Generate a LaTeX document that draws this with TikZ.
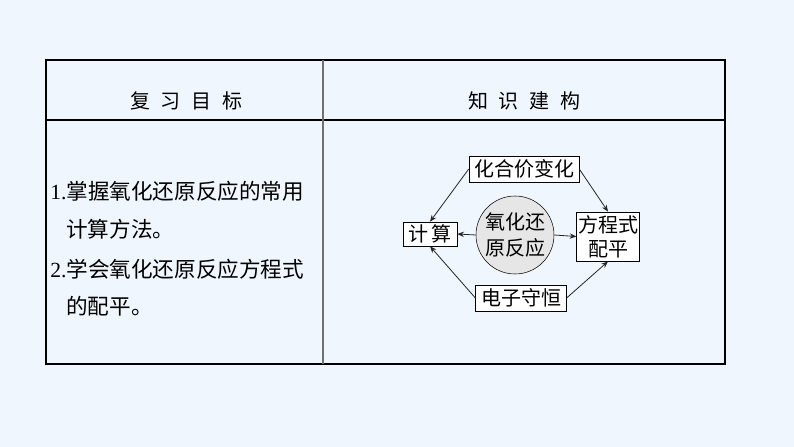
\documentclass[tikz,border=0pt]{standalone}
\usepackage{fontspec}
\setmainfont{Liberation Serif}
\newfontfamily\cjk{Noto Sans CJK SC}
\usetikzlibrary{positioning,arrows.meta,calc}

\definecolor{pagebg}{HTML}{F0F6FE}
\definecolor{coreg}{HTML}{E6E6E6}
\definecolor{rulegray}{HTML}{707070}

\tikzset{
  kbox/.style={draw,thin,fill=white,inner sep=1pt,font=\cjk\fontsize{15}{17}\selectfont},
  core/.style={draw,thin,circle,fill=coreg,minimum size=58.5pt,inner sep=0pt,align=center,
    font=\cjk\fontsize{15}{19}\selectfont},
  link/.style={-{Stealth[length=5pt,width=4pt]},semithick,black!85},
  goal/.style={anchor=west,inner sep=0pt,font=\fontsize{16.2}{18}\selectfont},
  head/.style={font=\cjk\fontsize{15}{17}\selectfont}
}
\newcommand{\hgap}{\hspace{8pt}}

\begin{document}
\begin{tikzpicture}[x=0.75pt,y=-0.75pt]
  \fill[pagebg] (0,0) rectangle (794,447);
  \useasboundingbox (0,0) rectangle (794,447);
  % table
  \draw[line width=1.1pt] (46,60) rectangle (725,364);
  \draw[line width=1.1pt] (46,120) -- (725,120);
  \draw[rulegray,line width=1.5pt] (323,60) -- (323,364);
  \node[head] (hgoal) at (186,101) {复\hgap 习\hgap 目\hgap 标};
  \node[head] (hmap) at (524,101) {知\hgap 识\hgap 建\hgap 构};
  % goals
  \node[goal] (g1) at (50,191) {1.{\cjk 掌握氧化还原反应的常用}};
  \node[goal] (g1b) at (66,229) {\cjk 计算方法。};
  \node[goal] (g2) at (50,269) {2.{\cjk 学会氧化还原反应方程式}};
  \node[goal] (g2b) at (66,306) {\cjk 的配平。};
  % concept map
  \node[core] (redox) at (515,235) {氧化还\\原反应};
  \node[kbox,minimum width=82.5pt,minimum height=19.5pt] (valence) at (524,169) {化合价变化};
  \node[kbox,minimum width=40.5pt,minimum height=18pt] (calc) at (430,234) {计\,算};
  \node[kbox,minimum width=46.5pt,minimum height=37pt,align=center,
    font=\cjk\fontsize{15}{18}\selectfont] (balance) at (608,236.5) {方程式\\配平};
  \node[kbox,minimum width=68pt,minimum height=19.5pt] (electron) at (521,298) {电子守恒};
  \draw[link] (valence.west) -- (calc.north);
  \draw[link] (valence.east) -- (balance.north);
  \draw[link] (redox.west) -- (calc.east);
  \draw[link] (redox.east) -- (balance.west);
  \draw[link] (electron.west) -- (calc.south);
  \draw[link] (electron.east) -- (balance.south);
\end{tikzpicture}
\end{document}
